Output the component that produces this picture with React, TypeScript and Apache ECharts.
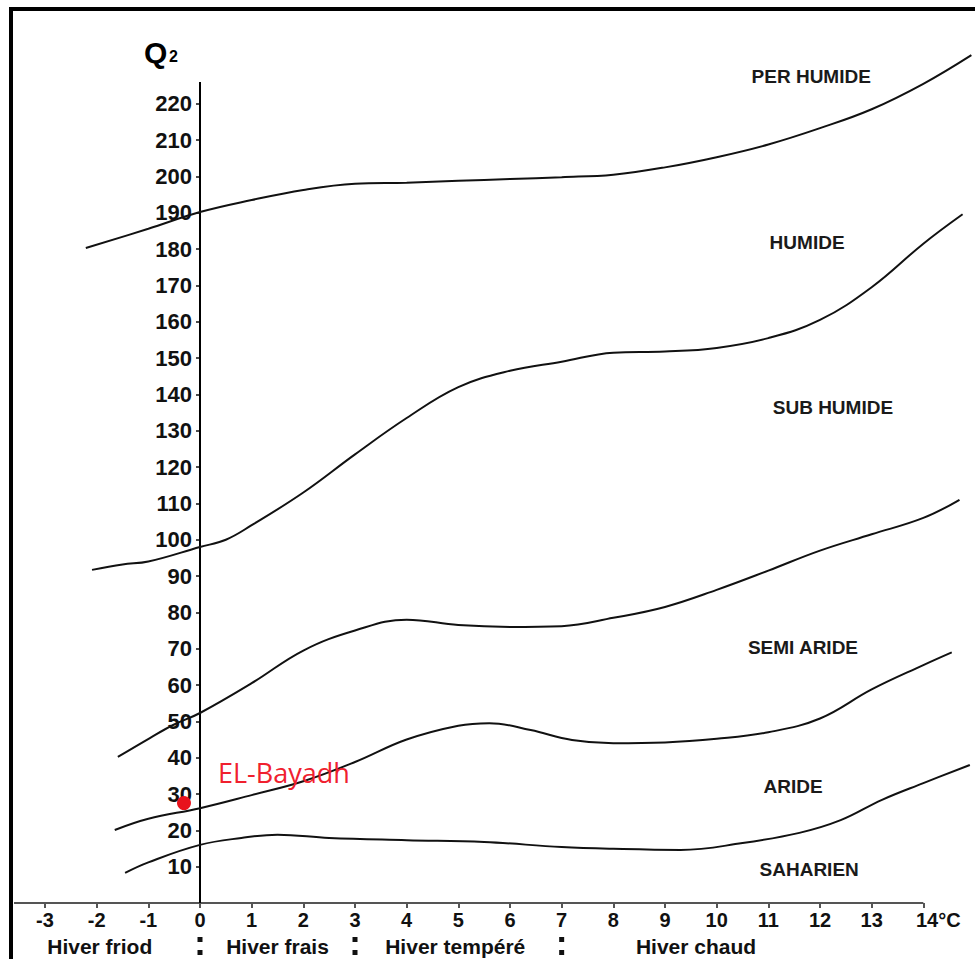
import React, { useEffect, useRef } from 'react';
import * as echarts from 'echarts';

// Axis ticks
const xTicks = [-3, -2, -1, 0, 1, 2, 3, 4, 5, 6, 7, 8, 9, 10, 11, 12, 13, 14];
const yTicks = [10, 20, 30, 40, 50, 60, 70, 80, 90, 100, 110, 120, 130, 140, 150, 160, 170, 180, 190, 200, 210, 220];
// Axis lines (drawn end-to-end in data units)
const xAxisLine = [[-3.6, 0], [14, 0]];
const yAxisLine = [[0, 0], [0, 226]];

// Boundary curves [m (°C), Q2]
const perHumideHumide = [
  [-2.21, 180.3], [-1, 185.6], [0, 190.2], [1, 193.5], [2, 196.3], [3, 198], [4, 198.3], [5, 198.8],
  [6, 199.3], [7, 199.8], [8, 200.5], [9, 202.5], [10, 205.3], [11, 208.8], [12, 213.3], [13, 218.5],
  [14, 225.5], [14.93, 233.4],
];
const humideSubHumide = [
  [-2.09, 91.7], [-1.5, 93.2], [-1, 94], [0, 98], [0.5, 100], [1, 104], [2, 113], [3, 123.5], [4, 133.5],
  [5, 142], [6, 146.5], [7, 149], [8, 151.5], [9, 151.8], [10, 152.8], [11, 155.5], [12, 160.5],
  [13, 169.5], [14, 181.5], [14.76, 189.6],
];
const subHumideSemiAride = [
  [-1.59, 40.2], [-0.97, 45.4], [-0.52, 49], [0, 52.3], [1, 60.5], [2, 69.5], [3, 75], [4, 78], [5, 76.5],
  [6, 76], [7, 76.2], [8, 78.5], [9, 81.5], [10, 86.2], [11, 91.5], [12, 97], [13, 101.5], [14, 106],
  [14.7, 111],
];
const semiArideAride = [
  [-1.65, 20.1], [-1, 23.2], [0, 26.1], [1, 29.7], [2, 33.5], [3, 38.8], [4, 45], [5, 48.8], [5.6, 49.5],
  [6.4, 47.6], [7.2, 44.9], [8, 44], [9, 44.2], [10, 45.2], [11, 47], [12, 50.8], [13, 58.8], [14, 65.5],
  [14.55, 69],
];
const arideSaharien = [
  [-1.45, 8.3], [-1, 11.2], [0, 16], [0.8, 17.9], [1.5, 18.8], [2.5, 17.9], [4, 17.3], [5.5, 16.8],
  [7, 15.4], [8, 14.9], [9.3, 14.6], [10.5, 16.5], [11.6, 19.3], [12.4, 22.8], [13.2, 28.4], [14, 33],
  [14.9, 38],
];
const curves = [perHumideHumide, humideSubHumide, subHumideSemiAride, semiArideAride, arideSaharien];

// Bioclimatic zone labels
const zoneNames = ['PER HUMIDE', 'HUMIDE', 'SUB HUMIDE', 'SEMI ARIDE', 'ARIDE', 'SAHARIEN'];
const zoneX = [11.83, 11.75, 12.25, 11.67, 11.48, 11.79];
const zoneY = [227.6, 181.7, 136.5, 70.2, 32.2, 9.1];

// Winter variants
const winterNames = ['Hiver friod', 'Hiver frais', 'Hiver tempéré', 'Hiver chaud'];
const winterX = [-1.94, 1.5, 4.94, 9.6];
const winterSeparators = [0, 3, 7];

// Station
const stationName = 'EL-Bayadh';
const stationM = -0.31;
const stationQ2 = 27.5;

const FONT = '"Liberation Sans", Arial, Helvetica, sans-serif';

const GRID_LEFT = 14;
const X_MIN = -3.6;
const X_MAX = 15;
const Y_MAX = 235;

export default function App() {
  const ref = useRef<HTMLDivElement>(null);

  useEffect(() => {
    const chart = echarts.init(ref.current as HTMLDivElement, null, { renderer: 'svg' });

    const curveSeries = curves.map((c) => ({
      type: 'line',
      data: c,
      smooth: 0.4,
      symbol: 'none',
      clip: false,
      silent: true,
      lineStyle: { color: '#111', width: 2 },
    }));

    // grid size so that 1 °C ≈ 51.6 px with 0 °C at x = 200, and Q2 = 0 at y = 903
    const gridWidth = (X_MAX - X_MIN) * ((200 - GRID_LEFT) / -X_MIN);
    const gridHeight = Y_MAX * (821 / 226);

    chart.setOption({
      animation: false,
      backgroundColor: '#ffffff',
      grid: {
        left: GRID_LEFT,
        top: 903 - gridHeight,
        width: gridWidth,
        height: gridHeight,
        outerBoundsMode: 'none',
        containLabel: false,
      },
      xAxis: {
        type: 'value',
        min: X_MIN,
        max: X_MAX,
        axisLine: { show: false },
        axisTick: { customValues: xTicks, length: 5, lineStyle: { color: '#555', width: 2 } },
        axisLabel: {
          customValues: xTicks,
          margin: 7,
          fontFamily: FONT,
          fontWeight: 'bold',
          fontSize: 20,
          lineHeight: 20,
          color: '#111',
          formatter: (v: number) => (v === 14 ? '{c|14°C}' : String(v)),
          rich: {
            c: { fontFamily: FONT, fontWeight: 'bold', fontSize: 20, lineHeight: 20, color: '#111', padding: [0, 0, 0, 30] },
          },
        },
        splitLine: { show: false },
      },
      yAxis: {
        type: 'value',
        min: 0,
        max: Y_MAX,
        offset: -(200 - GRID_LEFT),
        axisLine: { show: false, onZero: false },
        axisTick: { customValues: yTicks, length: 4, lineStyle: { color: '#111', width: 1.5 } },
        axisLabel: {
          customValues: yTicks,
          margin: 8,
          fontFamily: FONT,
          fontWeight: 'bold',
          fontSize: 22,
          color: '#111',
        },
        splitLine: { show: false },
      },
      series: [
        {
          type: 'line',
          data: xAxisLine,
          symbol: 'none',
          silent: true,
          clip: false,
          lineStyle: { color: '#555', width: 2 },
        },
        {
          type: 'line',
          data: yAxisLine,
          symbol: 'none',
          silent: true,
          clip: false,
          lineStyle: { color: '#000', width: 2 },
        },
        ...curveSeries,
        {
          type: 'scatter',
          data: [[stationM, stationQ2]],
          symbol: 'circle',
          symbolSize: 14,
          clip: false,
          itemStyle: { color: '#e8131c', opacity: 1 },
          label: {
            show: true,
            formatter: stationName,
            position: [41, -24],
            align: 'left',
            verticalAlign: 'middle',
            fontFamily: '"Open Sans", "Noto Sans", sans-serif',
            fontSize: 27,
            color: '#f0202e',
          },
          z: 5,
        },
      ],
    });

    const px = (x: number, y: number) => chart.convertToPixel({ gridIndex: 0 }, [x, y]) as number[];
    const graphics: any[] = [];

    graphics.push({
      type: 'rect',
      silent: true,
      shape: { x: 11, y: 9, width: 1400, height: 1400 },
      style: { fill: 'none', stroke: '#000', lineWidth: 4 },
    });

    zoneNames.forEach((name, i) => {
      const p = px(zoneX[i], zoneY[i]);
      graphics.push({
        type: 'text',
        x: p[0],
        y: p[1],
        silent: true,
        style: {
          text: name,
          fontFamily: FONT,
          fontWeight: 'bold',
          fontSize: 19,
          fill: '#1a1a1a',
          align: 'center',
          verticalAlign: 'middle',
        },
      });
    });

    winterNames.forEach((name, i) => {
      const p = px(winterX[i], 0);
      graphics.push({
        type: 'text',
        x: p[0],
        y: p[1] + 43,
        silent: true,
        style: {
          text: name,
          fontFamily: FONT,
          fontWeight: 'bold',
          fontSize: 21,
          lineHeight: 21,
          fill: '#111',
          align: 'center',
          verticalAlign: 'middle',
        },
      });
    });

    winterSeparators.forEach((x) => {
      const p = px(x, 0);
      [34, 47].forEach((dy) => {
        graphics.push({
          type: 'rect',
          silent: true,
          shape: { x: p[0] - 2.5, y: p[1] + dy, width: 5, height: 5 },
          style: { fill: '#111' },
        });
      });
    });

    const top = px(0, 226);
    graphics.push({
      type: 'text',
      x: top[0] - 56,
      y: top[1] - 30,
      silent: true,
      style: { text: 'Q', fontFamily: FONT, fontWeight: 'bold', fontSize: 30, fill: '#000', align: 'left', verticalAlign: 'middle' },
    });
    graphics.push({
      type: 'text',
      x: top[0] - 31,
      y: top[1] - 26,
      silent: true,
      style: { text: '2', fontFamily: FONT, fontWeight: 'bold', fontSize: 16, fill: '#000', align: 'left', verticalAlign: 'middle' },
    });

    chart.setOption({ graphic: graphics });

    return () => {
      chart.dispose();
    };
  }, []);

  return (
    <div
      ref={ref}
      style={{ position: 'absolute', left: 0, top: 0, width: 975, height: 959, background: '#fff' }}
    />
  );
}
